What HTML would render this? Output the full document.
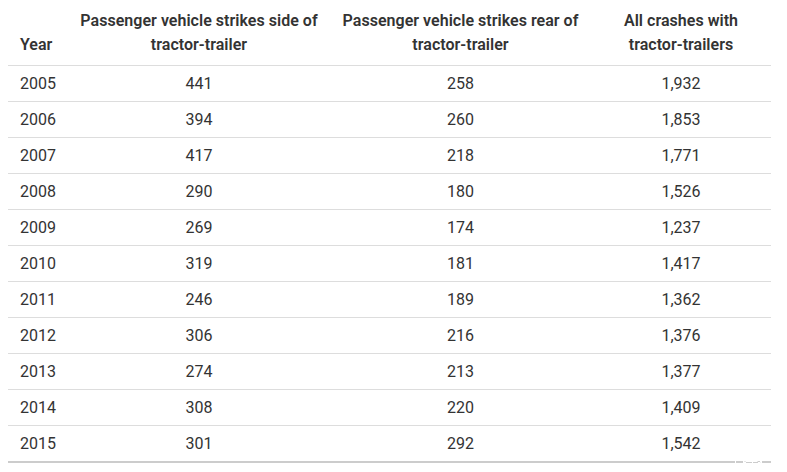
<!DOCTYPE html>
<html><head><meta charset="utf-8">
<style>
html,body{margin:0;padding:0;background:#fff;}
body{padding:0 8px;font-family:Roboto,"Liberation Sans",Arial,sans-serif;font-size:16px;color:#333;}
table{border-collapse:collapse;table-layout:fixed;width:763px;}
th,td{padding:0 12px;line-height:24px;}
th{white-space:nowrap;font-weight:600;letter-spacing:0.031px;vertical-align:bottom;color:#333;text-align:center;padding-top:9px;padding-bottom:8px;border-bottom:1px solid #ddd;}
td{text-align:center;height:35px;padding-top:0;padding-bottom:0;border-bottom:1px solid #ddd;}
th:first-child,td:first-child{text-align:left;}
tr:last-child td{border-bottom:2px solid #ccc;}
th:nth-child(3),td:nth-child(3){padding-left:11.5px;padding-right:12.5px;}
.wrap{position:relative;width:763px;}
.wm{position:absolute;background:#fff;}
</style></head><body>
<div class="wrap"><table>
<colgroup><col style="width:59px"><col style="width:264px"><col style="width:260px"><col style="width:180px"></colgroup>
<thead><tr><th>Year</th><th>Passenger vehicle strikes side of<br>tractor-trailer</th><th>Passenger vehicle strikes rear of<br>tractor-trailer</th><th>All crashes with<br>tractor-trailers</th></tr></thead>
<tbody>
<tr><td>2005</td><td>441</td><td>258</td><td>1,932</td></tr>
<tr><td>2006</td><td>394</td><td>260</td><td>1,853</td></tr>
<tr><td>2007</td><td>417</td><td>218</td><td>1,771</td></tr>
<tr><td>2008</td><td>290</td><td>180</td><td>1,526</td></tr>
<tr><td>2009</td><td>269</td><td>174</td><td>1,237</td></tr>
<tr><td>2010</td><td>319</td><td>181</td><td>1,417</td></tr>
<tr><td>2011</td><td>246</td><td>189</td><td>1,362</td></tr>
<tr><td>2012</td><td>306</td><td>216</td><td>1,376</td></tr>
<tr><td>2013</td><td>274</td><td>213</td><td>1,377</td></tr>
<tr><td>2014</td><td>308</td><td>220</td><td>1,409</td></tr>
<tr><td>2015</td><td>301</td><td>292</td><td>1,542</td></tr>
</tbody></table>
<div class="wm" style="left:727px;top:461px;width:1px;height:2px"></div>
<div class="wm" style="left:735px;top:461px;width:1px;height:2px"></div>
<div class="wm" style="left:736px;top:461px;width:2px;height:1px;opacity:0.55"></div>
<div class="wm" style="left:736px;top:462px;width:2px;height:1px"></div>
<div class="wm" style="left:738px;top:461px;width:11px;height:1px"></div>
<div class="wm" style="left:749px;top:461px;width:1px;height:1px;opacity:0.5"></div>
<div class="wm" style="left:744px;top:462px;width:1px;height:1px"></div>
<div class="wm" style="left:750px;top:462px;width:2px;height:1px"></div>
<div class="wm" style="left:752px;top:461px;width:1px;height:1px"></div>
<div class="wm" style="left:752px;top:462px;width:1px;height:1px;opacity:0.75"></div>
<div class="wm" style="left:753px;top:461px;width:1px;height:2px"></div>
</div>
</body></html>
